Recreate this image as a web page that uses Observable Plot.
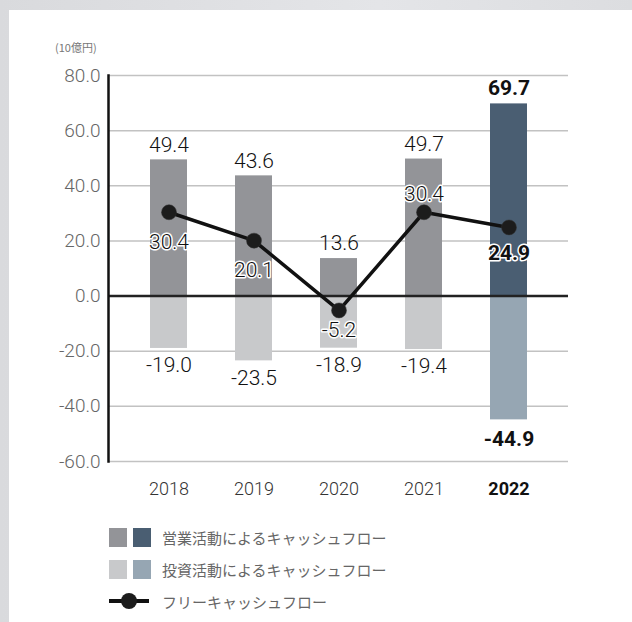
<!DOCTYPE html>
<html>
<head>
<meta charset="utf-8">
<script src="https://cdn.jsdelivr.net/npm/d3@7"></script>
<script src="https://cdn.jsdelivr.net/npm/@observablehq/plot@0.6"></script>
<style>
  html, body { margin: 0; padding: 0; }
  body { width: 632px; height: 622px; overflow: hidden; position: relative;
         background: linear-gradient(90deg, #d9dadd, #e4e5e8 60%, #dcdde0); font-family: Roboto, "Noto Sans", sans-serif; }
  #panel { position: absolute; left: 9px; top: 10px; right: 0; bottom: 0; background: #fff; }
  #chart { position: absolute; left: 0; top: 0; }
  #unit { position: absolute; left: 55px; top: 39px; font-size: 11px; color: #777; font-family: "Noto Sans CJK JP", sans-serif; }
  #legend { position: absolute; left: 109px; top: 521px; font-family: "Noto Sans CJK JP", sans-serif; font-size: 15px; color: #666; }
  .row { height: 32px; display: flex; align-items: center; }
  .sw { width: 18px; height: 19px; display: inline-block; margin-right: 6px; }
  .lab { margin-left: 5px; }
</style>
</head>
<body>
<div id="panel"></div>
<div id="unit">(10億円)</div>
<div id="chart"></div>
<div id="legend"></div>
<script>
const years = ["2018", "2019", "2020", "2021", "2022"];
const operating = [49.4, 43.6, 13.6, 49.7, 69.7];
const investing = [-19.0, -23.5, -18.9, -19.4, -44.9];
const freeCF = [30.4, 20.1, -5.2, 30.4, 24.9];
const yTicks = [80, 60, 40, 20, 0, -20, -40, -60];
const legendLabels = ["営業活動によるキャッシュフロー", "投資活動によるキャッシュフロー", "フリーキャッシュフロー"];

const C = { op: "#939498", opHi: "#4a5e72", inv: "#c8c9cb", invHi: "#96a6b3" };
const hi = "2022";
const opRows = years.map((y, i) => ({year: y, v: operating[i]}));
const invRows = years.map((y, i) => ({year: y, v: investing[i]}));
const fRows = years.map((y, i) => ({year: y, v: freeCF[i]}));
const fmt = d => d.toFixed(1);
const numFont = "Roboto, 'DejaVu Sans', sans-serif";
const lbl = { fontSize: 21, fill: "#111", letterSpacing: 1.5, fontWeight: 300 };
const lblB = { fontSize: 21, fill: "#111", letterSpacing: 1, fontWeight: "bold" };
const halo = { stroke: "#fff", strokeWidth: 3 };

const chart = Plot.plot({
  width: 632,
  height: 510,
  marginLeft: 108,
  marginRight: 64,
  marginTop: 75,
  marginBottom: 49,
  style: { fontFamily: numFont, background: "transparent", overflow: "visible" },
  x: { domain: years, paddingInner: 0.57, paddingOuter: 0.285, insetLeft: 16, insetRight: 15, axis: null },
  y: { domain: [-60, 80], axis: null },
  marks: [
    Plot.ruleY(yTicks.filter(t => t !== 0), { stroke: "#c2c2c2", strokeWidth: 1.5 }),
    Plot.barY(opRows, { x: "year", y: "v", fill: d => d.year === hi ? C.opHi : C.op }),
    Plot.barY(invRows, { x: "year", y: "v", fill: d => d.year === hi ? C.invHi : C.inv }),
    Plot.ruleY([0], { stroke: "#222", strokeWidth: 2.5 }),
    Plot.frame({ anchor: "left", stroke: "#111", strokeWidth: 2.5 }),
    Plot.text(yTicks, { y: d => d, text: fmt, frameAnchor: "left", textAnchor: "end", dx: -8, fontSize: 19, fill: "#666", fontWeight: 300 }),
    Plot.text(years.filter(y => y !== hi), { x: d => d, text: d => d, frameAnchor: "bottom", lineAnchor: "top", dy: 21, fontSize: 18, fill: "#333", fontWeight: 300 }),
    Plot.text([hi], { x: d => d, text: d => d, frameAnchor: "bottom", lineAnchor: "top", dy: 21, fontSize: 18, fontWeight: "bold", fill: "#111" }),
    // operating labels
    Plot.text(opRows.filter(d => d.year !== hi), { x: "year", y: "v", text: d => fmt(d.v), dy: -15, ...lbl }),
    Plot.text(opRows.filter(d => d.year === hi), { x: "year", y: "v", text: d => fmt(d.v), dy: -16, ...lblB }),
    // investing labels
    Plot.text(invRows.filter(d => d.year !== hi), { x: "year", y: "v", text: d => fmt(d.v), dy: 17, ...lbl }),
    Plot.text(invRows.filter(d => d.year === hi), { x: "year", y: "v", text: d => fmt(d.v), dy: 19, ...lblB }),
    // free cash flow
    Plot.line(fRows, { x: "year", y: "v", stroke: "#111", strokeWidth: 3.5 }),
    Plot.dot(fRows, { x: "year", y: "v", r: 7.5, fill: "#1c1c1c", stroke: "#333", strokeWidth: 0.5 }),
    Plot.text(fRows.filter(d => d.year === "2018" || d.year === "2019"), { x: "year", y: "v", text: d => fmt(d.v), dy: 30, ...lbl, ...halo }),
    Plot.text(fRows.filter(d => d.year === "2020"), { x: "year", y: "v", text: d => fmt(d.v), dy: 20, ...lbl, ...halo }),
    Plot.text(fRows.filter(d => d.year === "2021"), { x: "year", y: "v", text: d => fmt(d.v), dy: -18, ...lbl, ...halo }),
    Plot.text(fRows.filter(d => d.year === hi), { x: "year", y: "v", text: d => fmt(d.v), dy: 26, ...lblB, ...halo })
  ]
});
document.getElementById("chart").appendChild(chart);

// legend
const lg = document.getElementById("legend");
const pairs = [[C.op, C.opHi], [C.inv, C.invHi]];
pairs.forEach((p, i) => {
  const row = document.createElement("div");
  row.className = "row";
  row.innerHTML = `<span class="sw" style="background:${p[0]}"></span><span class="sw" style="background:${p[1]}"></span><span class="lab">${legendLabels[i]}</span>`;
  lg.appendChild(row);
});
const row3 = document.createElement("div");
row3.className = "row";
row3.innerHTML = `<svg width="42" height="20" style="margin-right:6px"><line x1="0" x2="40" y1="10" y2="10" stroke="#111" stroke-width="4"/><circle cx="20" cy="10" r="8" fill="#1c1c1c"/></svg><span class="lab">${legendLabels[2]}</span>`;
lg.appendChild(row3);
</script>
</body>
</html>
